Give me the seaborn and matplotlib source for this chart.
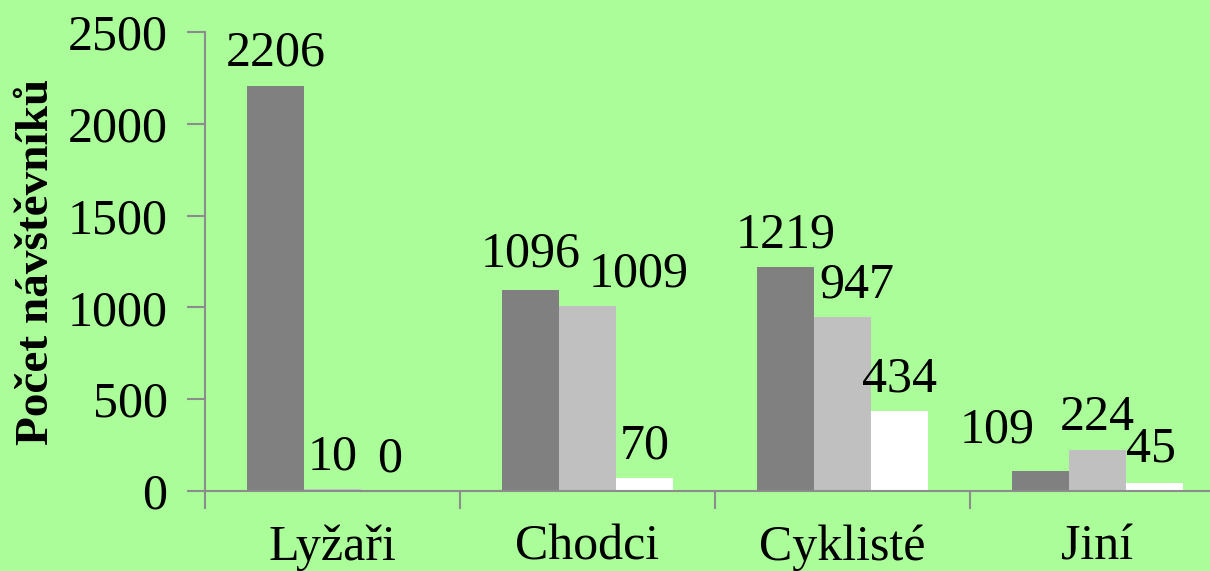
import matplotlib
matplotlib.use('Agg')
import matplotlib.pyplot as plt
import seaborn as sns
import pandas as pd
from matplotlib.ticker import FixedLocator, NullFormatter

# ── Data ─────────────────────────────────────────────────────────────────────
categories = ['Lyžaři', 'Chodci', 'Cyklisté', 'Jiní']
series_names = ['A', 'B', 'C']
series_a = [2206, 1096, 1219, 109]
series_b = [10, 1009, 947, 224]
series_c = [0, 70, 434, 45]
y_ticks = [0, 500, 1000, 1500, 2000, 2500]

BG = '#AAFD99'
COLORS = ['#808080', '#C0C0C0', '#FFFFFF']
AXIS = '#8C8C8C'
FS = 36

# label nudges in pixels (dx, gap above bar), as placed in the original chart
LABEL_NUDGE = {
    ('A', 1): (0, 23), ('B', 1): (51, 19),
    ('B', 2): (14, 20),
    ('A', 3): (-43, 28), ('C', 3): (-3, 21),
}

rows = []
for name, vals in zip(series_names, [series_a, series_b, series_c]):
    for cat, v in zip(categories, vals):
        rows.append({'cat': cat, 'series': name, 'value': v})
df = pd.DataFrame(rows)

sns.set_theme(style='white')
plt.rcParams['font.family'] = ['Liberation Serif', 'DejaVu Serif']

fig = plt.figure(figsize=(12.10, 5.71), dpi=100, facecolor=BG)
ax = fig.add_axes([205 / 1210, 80 / 571, 1020 / 1210, 459 / 571])
ax.set_facecolor(BG)

sns.barplot(data=df, x='cat', y='value', hue='series', order=categories,
            hue_order=series_names, palette=COLORS, width=0.67, gap=0,
            saturation=1, edgecolor='none', linewidth=0, legend=False, ax=ax)

# value labels above each bar
px = 72 / fig.dpi
for name, container in zip(series_names, ax.containers):
    for i, bar in enumerate(container):
        dx, dy = LABEL_NUDGE.get((name, i), (0, 20))
        h = bar.get_height()
        ax.annotate(f'{int(h)}', xy=(bar.get_x() + bar.get_width() / 2, h),
                    xytext=(dx * px, dy * px), textcoords='offset points',
                    ha='center', va='baseline', fontsize=FS, color='black')

ax.set_xlim(-0.5, 3.5)
ax.set_ylim(0, 2500)
ax.set_yticks(y_ticks)
ax.tick_params(axis='y', labelsize=FS, labelcolor='black', length=13, width=1.5,
               color=AXIS, pad=14, direction='out', left=True)
ax.tick_params(axis='x', which='major', length=0, labelsize=FS, labelcolor='black', pad=24)
ax.xaxis.set_minor_locator(FixedLocator([-0.5, 0.5, 1.5, 2.5, 3.5]))
ax.xaxis.set_minor_formatter(NullFormatter())
ax.tick_params(axis='x', which='minor', length=13, width=1.5, color=AXIS,
               direction='out', bottom=True)

for s in ['top', 'right']:
    ax.spines[s].set_visible(False)
for s in ['left', 'bottom']:
    ax.spines[s].set_color(AXIS)
    ax.spines[s].set_linewidth(1.5)
ax.spines['left'].set_bounds(0, 2500)

ax.set_xlabel('')
ax.set_ylabel('Počet návštěvníků', fontsize=34, fontweight='bold', color='black')
ax.yaxis.set_label_coords(-0.144, 0.5)

fig.savefig('out.png', dpi=100, facecolor=BG)
